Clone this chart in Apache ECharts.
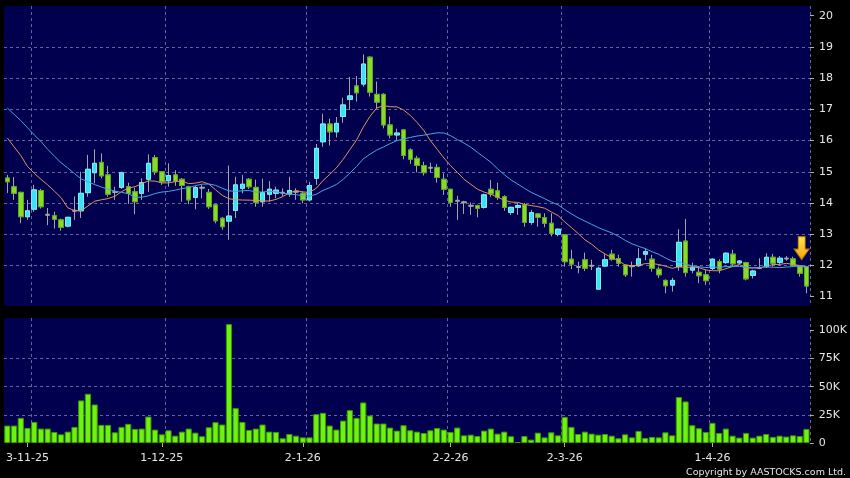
<!DOCTYPE html>
<html><head><meta charset="utf-8">
<script src="https://cdn.jsdelivr.net/npm/echarts@6/dist/echarts.min.js"></script>
<style>html,body{margin:0;padding:0;background:#000;}#c{width:850px;height:478px;}</style>
</head><body><div id="c"></div>
<script>
// ---- data ----
const opens = [14.80,14.52,14.34,13.56,13.80,14.40,13.62,13.59,13.46,13.26,
13.75,13.75,14.33,14.97,15.30,14.90,14.35,14.50,14.52,14.36,
14.31,14.76,15.45,15.00,14.71,14.90,14.76,14.52,14.18,14.49,
14.34,13.94,13.51,13.42,13.76,14.47,14.76,14.50,14.04,14.28,
14.31,14.33,14.29,14.36,14.31,14.10,14.79,15.96,16.53,16.28,
16.77,17.32,17.75,17.81,18.67,17.48,17.48,16.50,16.18,16.34,
15.70,15.43,15.20,15.13,15.14,14.76,14.44,14.07,14.02,13.91,
13.92,13.86,14.44,14.39,14.20,13.70,13.86,13.94,13.38,13.65,
13.53,13.35,13.00,12.98,12.20,11.95,12.18,11.99,11.24,11.98,
12.36,12.22,12.01,11.97,11.99,12.36,12.20,11.88,11.52,11.37,
11.96,12.78,11.85,11.78,11.70,11.90,12.12,12.09,12.36,12.08,
12.09,11.68,11.92,11.96,12.26,12.10,12.22,12.21,11.98,11.96];
const closes = [14.68,14.31,13.56,13.75,14.42,13.88,13.62,13.48,13.22,13.54,
13.75,14.31,15.08,15.27,14.87,14.28,14.35,14.97,14.31,14.04,
14.65,15.27,15.00,14.68,14.88,14.70,14.56,14.10,14.49,14.49,
13.88,13.43,13.24,13.58,14.58,14.60,14.52,14.02,14.33,14.44,
14.41,14.33,14.40,14.36,14.10,14.56,15.75,16.53,16.28,16.55,
17.14,17.43,17.53,18.45,17.55,17.23,16.50,16.18,16.24,15.52,
15.40,15.20,14.97,15.13,14.82,14.44,14.02,14.07,14.02,13.91,
13.83,14.26,14.29,14.18,13.86,13.86,13.92,13.38,13.69,13.54,
13.35,13.03,13.16,12.12,12.04,11.95,11.91,11.99,11.91,12.18,
12.20,12.07,11.70,11.97,12.21,12.44,11.91,11.70,11.35,11.52,
12.74,11.77,11.94,11.67,11.51,12.20,11.88,12.39,12.05,12.14,
11.57,11.82,11.92,12.26,12.07,12.23,12.22,11.99,11.75,11.34];
const lows = [14.32,14.10,13.35,13.46,13.72,13.82,13.29,13.18,13.11,13.22,
13.46,13.52,14.20,14.63,14.79,14.20,14.10,14.45,13.97,13.64,
14.10,14.36,14.90,14.58,14.52,14.55,14.04,13.96,13.80,14.15,
13.81,13.35,13.14,12.82,13.52,14.31,14.45,13.88,13.88,14.04,
14.15,14.22,14.20,14.10,13.99,14.05,14.58,15.80,15.84,16.10,
16.57,16.98,17.25,17.73,17.41,17.03,16.39,16.07,16.02,15.40,
15.25,14.98,14.88,14.98,14.65,14.26,13.88,13.46,13.65,13.62,
13.54,13.82,14.20,14.10,13.75,13.62,13.62,13.24,13.30,13.24,
13.22,12.93,12.93,11.96,11.88,11.75,11.82,11.85,11.22,11.95,
12.15,11.96,11.63,11.64,11.95,12.17,11.80,11.60,11.11,11.16,
11.83,11.64,11.75,11.43,11.38,11.85,11.75,12.05,11.96,12.03,
11.52,11.58,11.88,11.92,11.96,12.00,12.15,11.95,11.64,11.11];
const highs = [14.90,14.83,14.36,14.10,14.58,14.45,13.84,13.72,13.50,13.56,
14.21,15.00,15.54,15.72,15.59,15.19,14.52,15.00,14.65,14.49,
14.79,15.56,15.54,15.02,15.27,15.05,14.80,14.55,14.55,14.58,
14.45,13.96,13.55,15.20,14.84,14.90,14.80,14.75,14.78,14.70,
14.52,14.47,14.84,14.47,14.38,14.68,15.89,16.86,16.70,16.75,
17.37,18.04,18.07,18.76,18.70,17.89,17.52,16.77,16.38,16.37,
15.75,15.51,15.32,15.29,15.25,14.95,14.45,14.23,14.07,14.02,
13.95,14.30,14.74,14.65,14.25,13.88,14.00,14.00,13.78,13.68,
13.67,13.67,13.18,13.00,12.50,12.12,12.41,12.18,11.96,12.36,
12.50,12.34,12.03,12.12,12.55,12.55,12.34,11.96,11.55,11.60,
13.16,13.49,12.09,11.98,11.86,12.22,12.20,12.42,12.50,12.17,
12.12,11.86,12.23,12.39,12.37,12.30,12.30,12.28,12.00,11.98];
// volume in thousands of shares
const volumes = [15.5,15.5,22.3,13.4,18.7,12.8,12.8,9.8,7.7,10.1,
14.3,37.8,43.7,34.2,16.1,16.1,9.5,14.3,17.0,12.5,
12.8,23.5,11.9,7.7,11.3,6.5,10.1,12.8,9.2,6.0,
14.0,18.5,16.4,105.6,31.0,18.7,11.6,12.8,16.4,10.1,
9.8,4.2,8.0,6.5,5.0,5.0,25.6,26.8,15.5,11.9,
19.9,29.2,22.3,36.0,24.4,17.3,17.3,13.7,11.0,15.8,
11.3,10.1,8.9,11.3,13.4,11.9,9.8,13.7,6.8,7.4,
6.2,11.0,12.8,8.3,10.1,6.0,0.9,6.2,3.0,9.2,
5.0,9.5,6.8,23.2,14.3,8.0,10.1,8.3,7.4,8.0,
6.5,4.2,7.7,5.0,10.7,4.5,5.4,5.0,9.5,6.8,
40.8,36.9,15.8,13.1,9.8,17.9,8.9,12.8,6.5,4.8,
8.9,4.8,6.5,8.0,5.4,6.5,5.7,6.8,6.2,12.5];
// moving-average values at the start of the window (history before the first candle)
const ma10Head = [16.08,15.80,15.52,15.17,14.95,14.76,14.58,14.38,14.17];
const ma20Head = [17.04,16.84,16.64,16.41,16.18,15.97,15.72,15.50,15.29,15.12,
14.94,14.77,14.68,14.59,14.51,14.44,14.38,14.34,14.30];
const priceTicks = [11,12,13,14,15,16,17,18,19,20];
const volumeTicks = [0,25,50,75,100];
const dateTickIndex = [3,23,44,66,83,105];
const dateTickText = ['3-11-25','1-12-25','2-1-26','2-2-26','2-3-26','1-4-26'];
const monthLineIndex = [4,24,45,66,83,105];

// ---- build ----
const categories = opens.map((_, i) => String(i));
function movingAvg(n, head) {
  return closes.map((c, i) => {
    if (i < n - 1) return head[i];
    let s = 0; for (let k = i - n + 1; k <= i; k++) s += closes[k];
    return +(s / n).toFixed(3);
  });
}
const ma10 = movingAvg(10, ma10Head);
const ma20 = movingAvg(20, ma20Head);
const GREY = '#a4a4a4';
const wickData = opens.map((o, i) => [o, closes[i], lows[i], highs[i]]);
const bodyData = opens.map((o, i) => {
  const c = closes[i];
  const v = [o, c, Math.min(o, c), Math.max(o, c)];
  if (o === c) return {value: v, itemStyle: {color: GREY, color0: GREY, borderColor: GREY, borderColor0: GREY, borderColorDoji: GREY, borderWidth: 2}};
  return v;
});
const last = opens.length - 1;
const FONT = 'DejaVu Sans';
const gridLine = {show: true, showMinLine: false, showMaxLine: false, lineStyle: {color: '#63639a', width: 1, type: [3, 3]}};
const vLine = {show: true, interval: (i) => monthLineIndex.includes(i), lineStyle: {color: '#63639a', width: 1, type: [3, 3]}};

const chart = echarts.init(document.getElementById('c'), null, {renderer: 'canvas'});
chart.setOption({
  animation: false,
  backgroundColor: '#000000',
  grid: [
    {left: 4, top: 6, width: 806, height: 300, show: true, backgroundColor: '#00004e', borderWidth: 0},
    {left: 4, top: 318, width: 806, height: 125, show: true, backgroundColor: '#00004e', borderWidth: 0}
  ],
  xAxis: [
    {type: 'category', gridIndex: 0, data: categories, boundaryGap: true,
     axisLine: {show: false}, axisTick: {show: false}, axisLabel: {show: false}, splitLine: vLine},
    {type: 'category', gridIndex: 1, data: categories, boundaryGap: true,
     axisLine: {show: false},
     axisTick: {show: true, alignWithLabel: true, length: 4, interval: (i) => dateTickIndex.includes(i), lineStyle: {color: '#b0b0b0'}},
     axisLabel: {show: true, interval: (i) => dateTickIndex.includes(i), margin: 10,
       formatter: (v, i) => { const k = dateTickIndex.indexOf(i); return k >= 0 ? dateTickText[k] : ''; },
       color: '#e6e6e6', fontSize: 11, fontFamily: FONT},
     splitLine: vLine}
  ],
  yAxis: [
    {type: 'value', gridIndex: 0, position: 'right', min: 10.7, max: 20.31, splitNumber: 10,
     axisLine: {show: false},
     axisTick: {show: true, length: 4, customValues: priceTicks, lineStyle: {color: '#b0b0b0'}},
     axisLabel: {customValues: priceTicks, color: '#e6e6e6', fontSize: 11, fontFamily: FONT, margin: 9},
     splitLine: gridLine},
    {type: 'value', gridIndex: 1, position: 'right', min: 0, max: 111, interval: 25,
     axisLine: {show: false},
     axisTick: {show: true, length: 4, customValues: volumeTicks, lineStyle: {color: '#b0b0b0'}},
     axisLabel: {customValues: volumeTicks, color: '#e6e6e6', fontSize: 11, fontFamily: FONT, margin: 9,
       formatter: (v) => v === 0 ? '0' : v + 'K'},
     splitLine: gridLine}
  ],
  series: [
    {type: 'candlestick', name: 'wick', xAxisIndex: 0, yAxisIndex: 0, barWidth: 5, data: wickData,
     itemStyle: {color: 'rgba(0,0,0,0)', color0: 'rgba(0,0,0,0)', borderColor: GREY, borderColor0: GREY, borderColorDoji: GREY, borderWidth: 1}},
    {type: 'candlestick', name: 'body', xAxisIndex: 0, yAxisIndex: 0, barWidth: 5, data: bodyData,
     itemStyle: {color: '#3de2f2', color0: '#86dc26', borderColor: '#7aeefa', borderColor0: '#5ca81a', borderWidth: 1},
     markPoint: {
       silent: true,
       data: [{coord: [categories[last], highs[last]], symbol: 'path://M4,0 L11,0 L11,12 L15,12 L7.5,22 L0,12 L4,12 Z',
         symbolSize: [15, 23], symbolOffset: [-5, -18],
         itemStyle: {color: {type: 'linear', x: 0, y: 0, x2: 0, y2: 1, colorStops: [{offset: 0, color: '#ffe45a'}, {offset: 1, color: '#f2a600'}]}, borderColor: '#b07a00', borderWidth: 1},
         label: {show: false}}]
     }},
    {type: 'line', name: 'MA10', xAxisIndex: 0, yAxisIndex: 0, data: ma10, showSymbol: false, symbol: 'none',
     lineStyle: {color: '#e3925e', width: 1}},
    {type: 'line', name: 'MA20', xAxisIndex: 0, yAxisIndex: 0, data: ma20, showSymbol: false, symbol: 'none',
     lineStyle: {color: '#45a6e6', width: 1}},
    {type: 'bar', name: 'Volume', xAxisIndex: 1, yAxisIndex: 1, data: volumes, barCategoryGap: '8%',
     itemStyle: {color: '#6ff212', borderColor: '#3a9800', borderWidth: 1}}
  ],
  graphic: [
    {type: 'text', right: 4, bottom: 0, style: {text: 'Copyright by AASTOCKS.com Ltd.', fill: '#e6e6e6', font: '9.5px "DejaVu Sans"'}}
  ]
});
</script>
</body></html>
